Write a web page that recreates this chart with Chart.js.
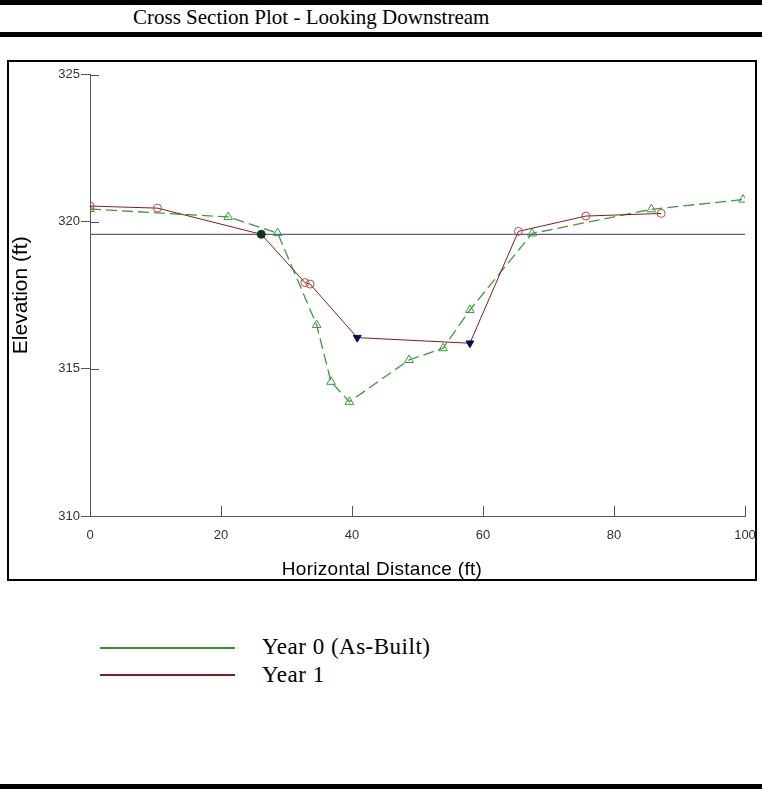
<!DOCTYPE html>
<html>
<head>
<meta charset="utf-8">
<script src="https://cdn.jsdelivr.net/npm/chart.js@4.4.1/dist/chart.umd.min.js"></script>
<style>
  body { margin: 0; background: #fff; }
  #page { position: relative; width: 762px; height: 789px; overflow: hidden; background: #fff; }
  .bar { position: absolute; left: 0; width: 762px; background: #000; }
  #title { position: absolute; left: 133px; top: 4px; font: 21px "Liberation Serif", "Times New Roman", serif; line-height: 26px; color: #000; }
  #frame { position: absolute; left: 7px; top: 60px; width: 750px; height: 521px; border: 2px solid #000; box-sizing: border-box; }
  #cross-chart { position: absolute; left: 0; top: 0; }
  #xtitle { position: absolute; left: 0; width: 746px; top: 496px; text-align: center; font: 19px "Liberation Sans", Arial, sans-serif; letter-spacing: 0.3px; color: #000; }
  .leg-line { position: absolute; left: 100px; width: 135px; height: 2px; }
  .leg-text { position: absolute; left: 262px; font: 23px "Liberation Serif", "Times New Roman", serif; letter-spacing: 0.5px; line-height: 26px; color: #000; }
</style>
</head>
<body>
<div id="page">
  <div class="bar" style="top:0;height:5px"></div>
  <div id="title">Cross Section Plot - Looking Downstream</div>
  <div class="bar" style="top:32px;height:5px"></div>
  <div id="frame">
    <canvas id="cross-chart" width="746" height="517"></canvas>
    <div id="xtitle">Horizontal Distance (ft)</div>
  </div>
  <div class="leg-line" style="top:647px;background:#2a9a2a"></div>
  <div class="leg-text" style="top:634px">Year 0 (As-Built)</div>
  <div class="leg-line" style="top:674px;background:#8b1a1a"></div>
  <div class="leg-text" style="top:662px">Year 1</div>
  <div class="bar" style="top:784px;height:5px"></div>
</div>
<script>
// Year 0 (As-Built) survey
var year0_x = [0, 21.1, 28.65, 34.6, 36.8, 39.6, 48.7, 53.9, 58.0, 67.5, 85.7, 99.7];
var year0_y = [320.43, 320.16, 319.61, 316.49, 314.56, 313.88, 315.30, 315.70, 317.00, 319.60, 320.42, 320.75];

// Year 1 survey
var year1_x = [0, 10.3, 26.15, 32.8, 33.6, 40.8, 58.0, 65.4, 75.7, 87.2];
var year1_y = [320.53, 320.46, 319.57, 317.93, 317.88, 316.06, 315.87, 319.67, 320.19, 320.28];

// bankfull / water line
var water_x = [0, 100];
var water_y = [319.57, 319.57];

var x_ticks = [0, 20, 40, 60, 80, 100];
var y_ticks = [310, 315, 320, 325];

function toPoints(xs, ys) {
  var pts = [];
  for (var i = 0; i < xs.length; i++) {
    pts.push({ x: xs[i], y: ys[i] });
  }
  return pts;
}

// marker styles for Year 1: filled dot at bankfull, inverted triangles at thalweg
var y1_style = [], y1_fill = [], y1_border = [], y1_rot = [], y1_radius = [];
for (var i = 0; i < year1_x.length; i++) {
  if (i == 2) {
    y1_style.push("circle"); y1_fill.push("#0e3a12"); y1_border.push("#0e3a12"); y1_rot.push(0); y1_radius.push(4);
  } else if (i == 5 || i == 6) {
    y1_style.push("triangle"); y1_fill.push("#0a0a5a"); y1_border.push("#0a0a5a"); y1_rot.push(180); y1_radius.push(4.5);
  } else {
    y1_style.push("circle"); y1_fill.push("rgba(255,255,255,0)"); y1_border.push("#c04848"); y1_rot.push(0); y1_radius.push(4);
  }
}

// inner tick marks (the axes here have ticks crossing into the plot)
var innerTicks = {
  id: "innerTicks",
  afterDraw: function (chart) {
    var c = chart.ctx;
    var xs = chart.scales.x, ys = chart.scales.y;
    c.save();
    c.strokeStyle = "#555";
    c.lineWidth = 1;
    c.beginPath();
    for (var i = 0; i < y_ticks.length; i++) {
      if (y_ticks[i] == 310) continue;
      var py = Math.round(ys.getPixelForValue(y_ticks[i])) + 0.5;
      c.moveTo(xs.left, py);
      c.lineTo(xs.left + 9, py);
    }
    for (var j = 0; j < x_ticks.length; j++) {
      if (x_ticks[j] == 0) continue;
      var px = Math.round(xs.getPixelForValue(x_ticks[j])) + 0.5;
      c.moveTo(px, ys.bottom);
      c.lineTo(px, ys.bottom - 10);
    }
    c.stroke();
    c.restore();
  },
};

var tickFont = { family: "'Liberation Sans Narrow', 'Liberation Sans', Arial, sans-serif", size: 13 };

var ctx = document.getElementById("cross-chart").getContext("2d");
var cross_chart = new Chart(ctx, {
  type: "scatter",
  data: {
    datasets: [
      {
        label: "Year 1",
        data: toPoints(year1_x, year1_y),
        showLine: true,
        borderColor: "#8b1a1a",
        borderWidth: 1,
        pointStyle: y1_style,
        pointRotation: y1_rot,
        pointRadius: y1_radius,
        pointBackgroundColor: y1_fill,
        pointBorderColor: y1_border,
        pointBorderWidth: 1,
        fill: false,
      },
      {
        label: "Year 0 (As-Built)",
        data: toPoints(year0_x, year0_y),
        showLine: true,
        borderColor: "#3a9e3a",
        borderWidth: 1.3,
        borderDash: [11, 5],
        pointStyle: "triangle",
        pointRadius: 5,
        pointBackgroundColor: "rgba(255,255,255,0)",
        pointBorderColor: "#3a9a3a",
        pointBorderWidth: 1,
        fill: false,
      },
      {
        label: "Water",
        data: toPoints(water_x, water_y),
        showLine: true,
        borderColor: "#5a5aa8",
        borderWidth: 1.2,
        pointRadius: 0,
        fill: false,
      },
    ],
  },
  options: {
    responsive: false,
    animation: false,
    devicePixelRatio: 1,
    layout: { padding: { top: 12.5, right: 10, left: 0, bottom: 0 } },
    plugins: {
      legend: { display: false },
      tooltip: { enabled: false },
    },
    scales: {
      x: {
        type: "linear",
        min: 0,
        max: 100,
        afterFit: function (s) { s.height = 63; s.paddingLeft = 0; s.paddingRight = 0; },
        afterBuildTicks: function (s) { s.ticks = x_ticks.map(function (v) { return { value: v }; }); },
        grid: { display: true, drawOnChartArea: false, drawTicks: false },
        border: { display: true, color: "#555", width: 1 },
        ticks: {
          padding: 12,
          color: "#333",
          font: tickFont,
          maxRotation: 0,
        },
      },
      y: {
        type: "linear",
        min: 310,
        max: 325,
        afterFit: function (s) { s.width = 81; s.paddingTop = 0; s.paddingBottom = 0; },
        afterBuildTicks: function (s) { s.ticks = y_ticks.map(function (v) { return { value: v }; }); },
        grid: { display: true, drawOnChartArea: false, drawTicks: true, tickLength: 9, color: "#555" },
        border: { display: true, color: "#555", width: 1 },
        ticks: {
          padding: 1,
          color: "#333",
          font: tickFont,
        },
        title: {
          display: true,
          text: "Elevation (ft)",
          color: "#000",
          padding: { top: 0, bottom: 0 },
          font: { family: "'Liberation Sans', Arial, sans-serif", size: 21 },
        },
      },
    },
  },
  plugins: [innerTicks],
});
</script>
</body>
</html>
